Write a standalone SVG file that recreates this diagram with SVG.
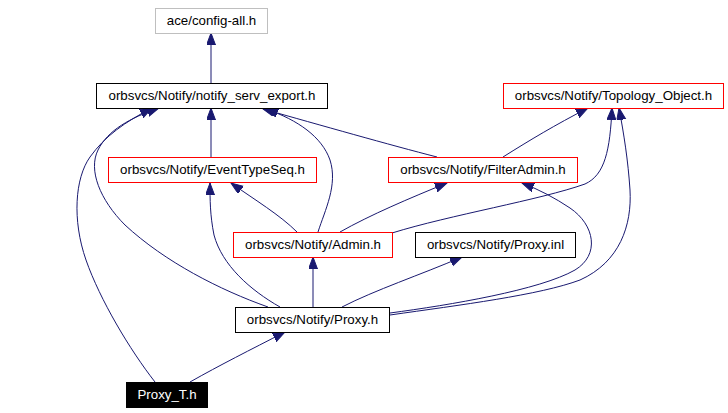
<svg xmlns="http://www.w3.org/2000/svg" width="728" height="413" viewBox="0 0 728 413">
<style>
.n rect{fill:#fff;stroke:#000;stroke-width:1}
.n.red rect{stroke:#ff0000}
.n.grey rect{stroke:#bfbfbf}
.n.dark rect{fill:#000;stroke:#000}
.n text{font-family:"Liberation Sans",Arial,sans-serif;font-size:13.3px;fill:#000;text-anchor:middle}
.n.dark text{fill:#fff}
.e path{fill:none;stroke:#191970;stroke-width:1;marker-end:url(#ah)}
</style>
<defs>
<marker id="ah" markerUnits="userSpaceOnUse" markerWidth="13" markerHeight="10" refX="12" refY="4.5" orient="auto">
<path d="M0,0 L12,4.5 L0,9 z" fill="#191970" stroke="#191970" stroke-width="1"/>
</marker>
</defs>
<rect width="728" height="413" fill="#fff"/>
<g class="e" id="edges">
<path d="M211,83 L211,33"/>
<path d="M211,157 L211,108"/>
<path d="M437,157 C390,145 320,125 263,109"/>
<path d="M318,232 C325,210 338,185 330,160 C322,137 298,120 266,109"/>
<path d="M503,157 C530,140 555,125 588,108"/>
<path d="M340,232 C370,215 410,198 447,183"/>
<path d="M297,232 C280,215 255,200 231,183"/>
<path d="M280,307 C250,290 222,265 214,235 C210,215 210,200 210,183"/>
<path d="M313,307 L313,257"/>
<path d="M342,307 C375,290 420,275 462,257"/>
<path d="M390,313 C450,305 540,290 575,270 C600,255 595,225 570,208 C555,198 540,190 522,183"/>
<path d="M390,315 C460,305 540,295 580,280 C620,262 632,225 630,190 C628,160 624,135 619,108"/>
<path d="M392,233 C450,215 540,200 585,184 C605,175 610,150 612,108"/>
<path d="M190,382 C220,365 250,350 285,332"/>
<path d="M155,382 C130,350 100,300 86,260 C72,220 75,178 90,157 C105,136 125,122 152,108"/>
<path d="M268,307 C220,290 165,262 125,225 C100,200 88,170 98,150 C108,130 130,118 159,108"/>
</g>
<g class="n grey" id="config_all"><rect x="155.5" y="8.5" width="112" height="25"/><text x="211.5" y="25">ace/config-all.h</text></g>
<g class="n" id="notify_serv_export"><rect x="96.5" y="83.5" width="231" height="25"/><text x="212" y="100">orbsvcs/Notify/notify_serv_export.h</text></g>
<g class="n red" id="EventTypeSeq"><rect x="108.5" y="157.5" width="208" height="25"/><text x="212.5" y="174">orbsvcs/Notify/EventTypeSeq.h</text></g>
<g class="n red" id="Topology_Object"><rect x="503.5" y="83.5" width="220" height="25"/><text x="613.5" y="100">orbsvcs/Notify/Topology_Object.h</text></g>
<g class="n red" id="FilterAdmin"><rect x="388.5" y="157.5" width="189" height="25"/><text x="483" y="174">orbsvcs/Notify/FilterAdmin.h</text></g>
<g class="n" id="Proxy_inl"><rect x="415.5" y="232.5" width="160" height="25"/><text x="495.5" y="249">orbsvcs/Notify/Proxy.inl</text></g>
<g class="n red" id="Admin"><rect x="233.5" y="232.5" width="159" height="25"/><text x="313" y="249">orbsvcs/Notify/Admin.h</text></g>
<g class="n" id="Proxy_h"><rect x="235.5" y="307.5" width="154" height="25"/><text x="312.5" y="324">orbsvcs/Notify/Proxy.h</text></g>
<g class="n dark" id="Proxy_T"><rect x="126.5" y="382.5" width="81" height="25"/><text x="167" y="399">Proxy_T.h</text></g>
</svg>
